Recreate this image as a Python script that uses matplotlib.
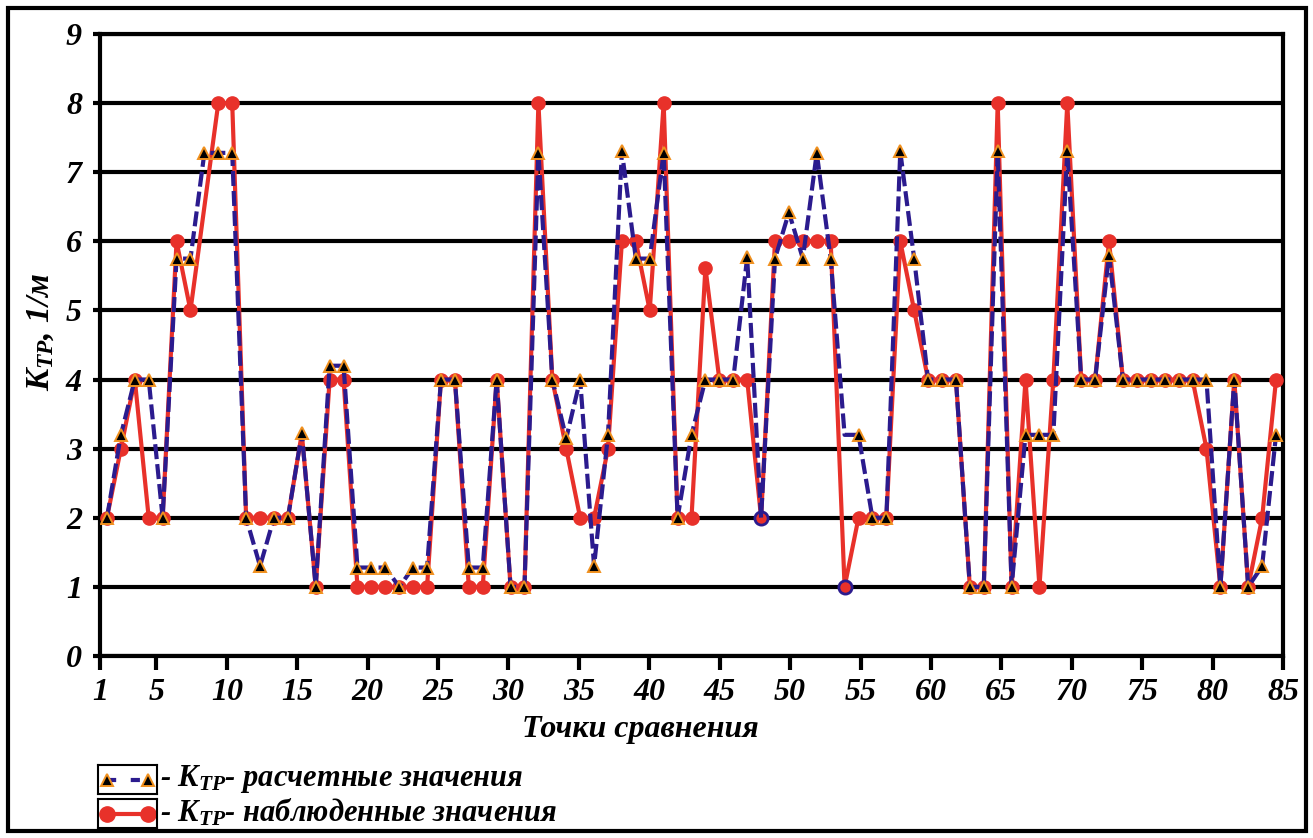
import numpy as np
import matplotlib
matplotlib.use("Agg")
import matplotlib.pyplot as plt
from matplotlib.patches import Rectangle


# ----------------------------------------------------------------------
# Data
# ----------------------------------------------------------------------

points = list(range(1, 86))

# K_TP calculated values (blue dashed, triangles)
calc = [2, 3.2, 4, 4, 2, 5.75, 5.75, 7.28, 7.28, 7.28,
        2, 1.3, 2, 2, 3.22, 1, 4.2, 4.2, 1.28, 1.28,
        1.28, 1, 1.28, 1.28, 4, 4, 1.28, 1.28, 4, 1,
        1, 7.28, 4, 3.15, 4, 1.3, 3.2, 7.3, 5.75, 5.75,
        7.28, 2, 3.2, 4, 4, 4, 5.77, 2, 5.75, 6.42,
        5.75, 7.28, 5.75, 3.2, 3.2, 2, 2, 7.3, 5.75, 4,
        4, 4, 1, 1, 7.3, 1, 3.2, 3.2, 3.2, 7.3,
        4, 4, 5.8, 4, 4, 4, 4, 4, 4, 4,
        1, 4, 1, 1.3, 3.2]

# K_TP observed values (red solid, circles); point 8 has no value
observed = [2, 3, 4, 2, 2, 6, 5, np.nan, 8, 8,
            2, 2, 2, 2, 3.22, 1, 4, 4, 1, 1,
            1, 1, 1, 1, 4, 4, 1, 1, 4, 1,
            1, 8, 4, 3, 2, 2, 3, 6, 6, 5,
            8, 2, 2, 5.62, 4, 4, 4, 2, 6, 6,
            6, 6, 6, 1, 2, 2, 2, 6, 5, 4,
            4, 4, 1, 1, 8, 1, 4, 1, 4, 8,
            4, 4, 6, 4, 4, 4, 4, 4, 4, 3,
            1, 4, 1, 2, 4]

# observed points drawn with a blue rim in the original
rimmed = [48, 54]
# observed point whose circle is not shown
hidden = [15]

x_tick_labels = [1, 5, 10, 15, 20, 25, 30, 35, 40, 45,
                 50, 55, 60, 65, 70, 75, 80, 85]
y_ticks = list(range(0, 10))

RED = "#E8312A"
BLUE = "#2B1B8E"
ORANGE = "#F0901E"

plt.rcParams["font.family"] = ["Liberation Serif", "DejaVu Serif"]
plt.rcParams["mathtext.fontset"] = "custom"
plt.rcParams["mathtext.it"] = "Liberation Serif:italic:bold"
plt.rcParams["mathtext.rm"] = "Liberation Serif:italic:bold"

W, H = 1313, 838
fig = plt.figure(figsize=(W / 100, H / 100), dpi=100)
fig.patch.set_facecolor("white")

# outer frame
fig.patches.append(Rectangle((8 / W, 7 / H), 1298 / W, 823 / H,
                             transform=fig.transFigure, fill=False,
                             edgecolor="black", linewidth=3))

ax = fig.add_axes([100 / W, 1 - 656 / H, 1183 / W, 622 / H])

x = np.array(points, dtype=float)
obs = np.array(observed, dtype=float)
ok = ~np.isnan(obs)
xo, yo = x[ok], obs[ok]

red_marks = [i for i, p in enumerate(xo) if int(p) not in hidden]
ax.plot(xo, yo, color=RED, lw=3, marker="o", ms=9.5,
        mfc=RED, mec=RED, markevery=red_marks, zorder=3)
rim_idx = [p - 1 for p in rimmed]
ax.plot(x[rim_idx], obs[rim_idx], ls="none", marker="o", ms=9.5,
        mfc=RED, mec=BLUE, mew=2, zorder=3.5)
blue_marks = [i for i in range(len(points)) if i not in rim_idx]
ax.plot(x, calc, color=BLUE, lw=3, dashes=(3.6, 1.2), marker="^", ms=8,
        mfc="black", mec=ORANGE, mew=1.4, markevery=blue_marks, zorder=4)

ax.set_xlim(0.5, 85.5)
ax.set_ylim(0, 9)

tick_pos = [0.5 + (k - 1) * 85 / 84 for k in x_tick_labels]
ax.set_xticks(tick_pos)
ax.set_xticklabels([str(k) for k in x_tick_labels])
ax.set_yticks(y_ticks)
ax.set_yticklabels([str(v) for v in y_ticks])

for lab in ax.get_xticklabels() + ax.get_yticklabels():
    lab.set_fontsize(23)
    lab.set_fontweight("bold")
    lab.set_fontstyle("italic")

ax.tick_params(axis="x", direction="out", length=10, width=3, pad=6)
ax.tick_params(axis="y", direction="out", length=5, width=3, pad=8)
ax.yaxis.grid(True, color="black", lw=3)
ax.set_axisbelow(True)
for s in ax.spines.values():
    s.set_linewidth(3)
    s.set_color("black")

fig.text(640 / W, 1 - 729 / H, "Точки сравнения", ha="center", va="center",
         fontsize=23, fontweight="bold", fontstyle="italic")
fig.text(40 / W, 1 - 332 / H, "$K_{TP}$, 1/м", ha="center", va="center",
         rotation=90, fontsize=24, fontweight="bold", fontstyle="italic")

# legend: small framed samples with text
legend_rows = [
    (765, "calc", "- $K_{TP}$- расчетные значения"),
    (799, "obs", "- $K_{TP}$- наблюденные значения"),
]
for top, kind, text in legend_rows:
    lax = fig.add_axes([98 / W, 1 - (top + 29) / H, 59 / W, 29 / H])
    lax.set_xlim(0, 1)
    lax.set_ylim(0, 1)
    lax.set_xticks([])
    lax.set_yticks([])
    for s in lax.spines.values():
        s.set_linewidth(1.5)
    if kind == "calc":
        lax.plot([0.15, 0.85], [0.5, 0.5], color=BLUE, lw=3,
                 dashes=(2.2, 3.5), marker="^", ms=8, mfc="black",
                 mec=ORANGE, mew=1.4)
    else:
        lax.plot([0.15, 0.85], [0.5, 0.5], color=RED, lw=3,
                 marker="o", ms=11, mfc=RED, mec=RED)
    fig.text(160 / W, 1 - (top + 14) / H, text, ha="left", va="center",
             fontsize=22, fontweight="bold", fontstyle="italic")

fig.savefig("out.png", dpi=100)
